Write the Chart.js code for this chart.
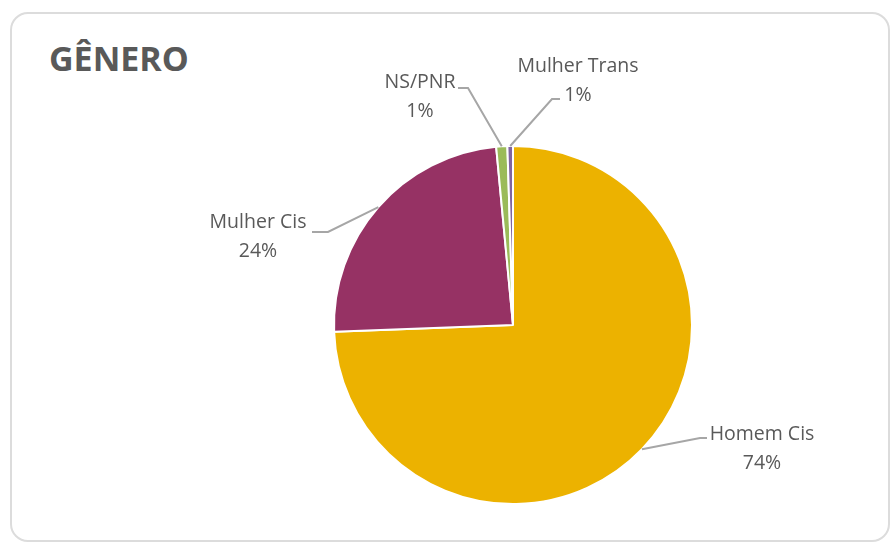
<!DOCTYPE html>
<html>
<head>
<meta charset="utf-8">
<script src="https://cdn.jsdelivr.net/npm/chart.js@4.4.1/dist/chart.umd.min.js"></script>
<style>
  body { margin: 0; background: #fff; }
  #wrap { position: relative; width: 896px; height: 544px; overflow: hidden; }
  #card {
    position: absolute; left: 10px; top: 12px; width: 880px; height: 530px;
    border: 2px solid #dcdcdc; border-radius: 18px; box-sizing: border-box;
  }
  #title {
    position: absolute; left: 49px; top: 34px;
    font-family: "Open Sans", sans-serif; font-weight: 700; font-size: 34px;
    color: #595959; line-height: 48px;
  }
  canvas { position: absolute; left: 0; top: 0; }
</style>
</head>
<body>
<div id="wrap">
  <div id="card"></div>
  <div id="title">GÊNERO</div>
  <canvas id="generoChart" width="896" height="544"></canvas>
</div>
<script>
// Gender breakdown (percent)
const categories = ["Homem Cis", "Mulher Cis", "NS/PNR", "Mulher Trans"];
const values = [74.4, 24.1, 1.0, 0.5];
const valueLabels = ["74%", "24%", "1%", "1%"];
const sliceColors = ['#ECB200', '#963264', '#9BBB59', '#8064A2'];

// where each data label sits, relative to the pie centre (text centre, elbow, line end)
const labelLayout = [
  { tx: 249, ty: 109, ex: 187, ey: 113, lx: 194, ly: 113 },
  { tx: -255, ty: -103, ex: -185, ey: -93, lx: -201, ly: -93 },
  { tx: -93, ty: -243, ex: -45, ey: -237, lx: -55, ly: -237 },
  { tx: 65, ty: -259, ex: 39, ey: -226, lx: 47, ly: -226 }
];

// draws the Excel style labels with leader lines
const leaderLabels = {
  id: 'leaderLabels',
  afterDraw(chart) {
    const c = chart.ctx;
    const arcs = chart.getDatasetMeta(0).data;
    c.save();
    c.font = '19.5px "Open Sans", sans-serif';
    c.fillStyle = '#595959';
    c.textAlign = 'center';
    c.textBaseline = 'middle';
    arcs.forEach((arc, i) => {
      const p = arc.getProps(['x', 'y', 'startAngle', 'endAngle', 'outerRadius'], true);
      const mid = (p.startAngle + p.endAngle) / 2;
      const ax = p.x + Math.cos(mid) * p.outerRadius;
      const ay = p.y + Math.sin(mid) * p.outerRadius;
      const L = labelLayout[i];
      c.strokeStyle = '#a6a6a6';
      c.lineWidth = 2;
      c.beginPath();
      c.moveTo(ax, ay);
      c.lineTo(p.x + L.ex, p.y + L.ey);
      c.lineTo(p.x + L.lx, p.y + L.ly);
      c.stroke();
      c.fillText(categories[i], p.x + L.tx, p.y + L.ty);
      c.fillText(valueLabels[i], p.x + L.tx, p.y + L.ty + 29);
    });
    c.restore();
  }
};

const ctx = document.getElementById('generoChart').getContext('2d');
new Chart(ctx, {
  type: 'pie',
  data: {
    labels: categories,
    datasets: [{
      data: values,
      backgroundColor: sliceColors,
      borderColor: '#ffffff',
      borderWidth: 2
    }]
  },
  options: {
    responsive: false,
    animation: false,
    layout: { padding: { left: 333, top: 145, right: 203, bottom: 39 } },
    plugins: {
      legend: { display: false },
      tooltip: { enabled: false }
    }
  },
  plugins: [leaderLabels]
});
</script>
</body>
</html>
